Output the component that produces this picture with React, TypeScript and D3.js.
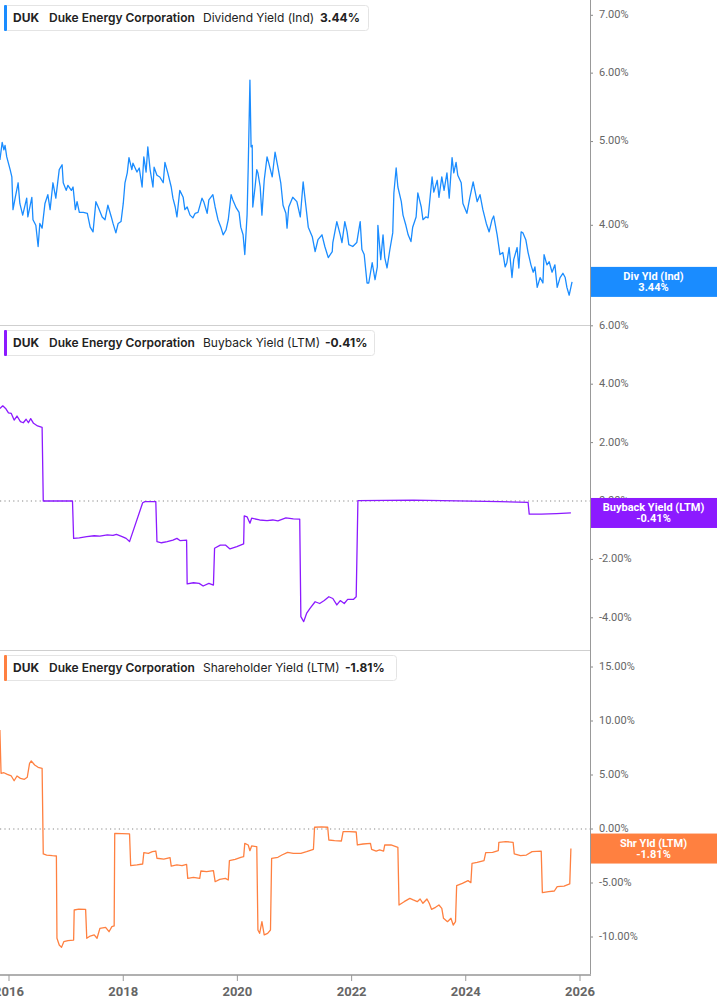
// Externals
import * as d3 from 'd3'
import { FC } from 'react'


const WIDTH = 717
const HEIGHT = 1005
const PLOT_RIGHT = 590
const AXIS_Y = 975
const PANEL_TOPS = [0, 325, 650]

const YEAR_TICKS = [2016, 2018, 2020, 2022, 2024, 2026]
const DIV_TICKS = [4, 5, 6, 7]
const BUYBACK_TICKS = [-4, -2, 0, 2, 4, 6]
const SHR_TICKS = [-10, -5, 0, 5, 10, 15]

// [decimal year, yield %]
const DIV_YIELD: [number, number][] = [
  [2015.84, 4.76], [2015.88, 4.99], [2015.91, 4.89], [2015.93, 4.95], [2015.96, 4.80],
  [2016.02, 4.64], [2016.05, 4.55], [2016.07, 4.17], [2016.11, 4.31], [2016.16, 4.48],
  [2016.19, 4.24], [2016.24, 4.11], [2016.31, 4.30], [2016.33, 4.09], [2016.40, 4.31],
  [2016.42, 4.06], [2016.47, 4.00], [2016.51, 3.78], [2016.54, 4.02], [2016.58, 3.97],
  [2016.63, 4.24], [2016.68, 4.34], [2016.72, 4.17], [2016.77, 4.48], [2016.82, 4.30],
  [2016.88, 4.64], [2016.93, 4.70], [2016.95, 4.48], [2017.00, 4.39], [2017.03, 4.45],
  [2017.09, 4.39], [2017.12, 4.43], [2017.16, 4.17], [2017.19, 4.26], [2017.23, 4.14],
  [2017.30, 4.14], [2017.37, 4.13], [2017.42, 3.98], [2017.47, 3.93], [2017.52, 4.26],
  [2017.56, 4.20], [2017.63, 4.09], [2017.68, 4.06], [2017.73, 4.22], [2017.79, 4.09],
  [2017.82, 4.02], [2017.87, 3.92], [2017.91, 4.02], [2017.96, 4.04], [2018.00, 4.24],
  [2018.03, 4.48], [2018.07, 4.60], [2018.10, 4.79], [2018.15, 4.64], [2018.17, 4.72],
  [2018.24, 4.61], [2018.28, 4.66], [2018.33, 4.43], [2018.36, 4.80], [2018.40, 4.61],
  [2018.43, 4.93], [2018.47, 4.64], [2018.52, 4.43], [2018.54, 4.67], [2018.59, 4.57],
  [2018.64, 4.55], [2018.70, 4.48], [2018.73, 4.73], [2018.78, 4.60], [2018.84, 4.43],
  [2018.87, 4.30], [2018.91, 4.20], [2018.94, 4.09], [2018.99, 4.39], [2019.05, 4.31],
  [2019.08, 4.17], [2019.12, 4.20], [2019.17, 4.11], [2019.22, 4.08], [2019.26, 4.13],
  [2019.31, 4.14], [2019.38, 4.30], [2019.41, 4.26], [2019.47, 4.13], [2019.50, 4.28],
  [2019.57, 4.34], [2019.61, 4.20], [2019.66, 4.06], [2019.71, 3.98], [2019.75, 3.90],
  [2019.80, 3.95], [2019.84, 4.06], [2019.89, 4.34], [2019.92, 4.28], [2019.98, 4.19],
  [2020.03, 4.14], [2020.06, 3.98], [2020.10, 3.90], [2020.13, 3.70], [2020.17, 4.11],
  [2020.19, 4.67], [2020.22, 5.89], [2020.24, 4.93], [2020.26, 4.95], [2020.27, 4.20],
  [2020.31, 4.43], [2020.34, 4.64], [2020.36, 4.60], [2020.40, 4.43], [2020.43, 4.11],
  [2020.47, 4.51], [2020.52, 4.80], [2020.55, 4.72], [2020.61, 4.55], [2020.66, 4.86],
  [2020.71, 4.67], [2020.76, 4.48], [2020.80, 4.22], [2020.85, 4.13], [2020.87, 3.97],
  [2020.90, 4.20], [2020.97, 4.31], [2021.04, 4.26], [2021.10, 4.09], [2021.15, 4.49],
  [2021.20, 4.20], [2021.24, 3.98], [2021.31, 3.88], [2021.36, 3.73], [2021.41, 3.85],
  [2021.48, 3.90], [2021.53, 3.78], [2021.59, 3.67], [2021.66, 3.73], [2021.67, 3.82],
  [2021.74, 4.04], [2021.80, 3.90], [2021.83, 3.82], [2021.88, 4.04], [2021.92, 3.93],
  [2021.95, 3.80], [2022.02, 3.78], [2022.09, 3.82], [2022.15, 4.04], [2022.18, 3.75],
  [2022.22, 3.70], [2022.27, 3.43], [2022.30, 3.43], [2022.36, 3.62], [2022.41, 3.46],
  [2022.45, 3.58], [2022.46, 4.00], [2022.51, 3.65], [2022.55, 3.90], [2022.58, 3.67],
  [2022.62, 3.57], [2022.67, 3.75], [2022.72, 3.92], [2022.74, 4.36], [2022.78, 4.66],
  [2022.81, 4.43], [2022.87, 4.26], [2022.90, 4.11], [2022.95, 4.00], [2022.99, 3.90],
  [2023.04, 3.83], [2023.07, 3.98], [2023.13, 4.09], [2023.16, 4.36], [2023.22, 4.20],
  [2023.25, 4.06], [2023.30, 4.09], [2023.34, 4.08], [2023.41, 4.55], [2023.44, 4.37],
  [2023.50, 4.51], [2023.53, 4.31], [2023.58, 4.55], [2023.62, 4.39], [2023.67, 4.60],
  [2023.71, 4.30], [2023.76, 4.79], [2023.79, 4.60], [2023.83, 4.73], [2023.86, 4.57],
  [2023.92, 4.48], [2023.95, 4.24], [2024.02, 4.13], [2024.07, 4.30], [2024.13, 4.49],
  [2024.16, 4.39], [2024.20, 4.26], [2024.25, 4.34], [2024.30, 4.17], [2024.36, 4.02],
  [2024.41, 3.93], [2024.46, 4.06], [2024.49, 4.10], [2024.55, 3.90], [2024.60, 3.70],
  [2024.65, 3.72], [2024.69, 3.58], [2024.72, 3.62], [2024.76, 3.77], [2024.81, 3.48],
  [2024.84, 3.65], [2024.90, 3.77], [2024.93, 3.57], [2024.97, 3.93], [2025.00, 3.92],
  [2025.05, 3.85], [2025.09, 3.72], [2025.14, 3.60], [2025.18, 3.53], [2025.21, 3.58],
  [2025.25, 3.39], [2025.30, 3.48], [2025.35, 3.43], [2025.37, 3.70], [2025.42, 3.60],
  [2025.46, 3.63], [2025.51, 3.53], [2025.56, 3.60], [2025.60, 3.39], [2025.65, 3.48],
  [2025.70, 3.52], [2025.74, 3.48], [2025.77, 3.39], [2025.81, 3.32], [2025.86, 3.44],
]

const BUYBACK_YIELD: [number, number][] = [
  [2015.84, 3.17], [2015.89, 3.26], [2015.94, 3.17], [2015.99, 3.02], [2016.04, 3.00],
  [2016.09, 2.77], [2016.14, 2.91], [2016.20, 2.72], [2016.25, 2.68], [2016.30, 2.80],
  [2016.34, 2.68], [2016.38, 2.82], [2016.43, 2.66], [2016.50, 2.57], [2016.58, 2.52],
  [2016.60, 0.00], [2017.11, 0.00], [2017.13, -1.28], [2017.23, -1.26], [2017.36, -1.22],
  [2017.49, -1.19], [2017.59, -1.20], [2017.72, -1.16], [2017.82, -1.18], [2017.88, -1.14],
  [2017.98, -1.22], [2018.05, -1.28], [2018.11, -1.39], [2018.34, -0.06], [2018.38, -0.02],
  [2018.57, -0.02], [2018.59, -1.39], [2018.67, -1.43], [2018.77, -1.39], [2018.87, -1.34],
  [2018.94, -1.28], [2019.00, -1.36], [2019.11, -1.34], [2019.12, -2.84], [2019.23, -2.80],
  [2019.33, -2.82], [2019.40, -2.91], [2019.50, -2.82], [2019.58, -2.88], [2019.60, -1.62],
  [2019.70, -1.51], [2019.79, -1.51], [2019.87, -1.64], [2019.99, -1.56], [2020.11, -1.47],
  [2020.12, -0.51], [2020.17, -0.54], [2020.22, -0.76], [2020.25, -0.59], [2020.39, -0.65],
  [2020.52, -0.67], [2020.62, -0.65], [2020.71, -0.68], [2020.85, -0.58], [2020.98, -0.61],
  [2021.09, -0.62], [2021.11, -3.96], [2021.16, -4.13], [2021.21, -3.85], [2021.27, -3.68],
  [2021.36, -3.45], [2021.44, -3.51], [2021.52, -3.41], [2021.60, -3.28], [2021.67, -3.34],
  [2021.74, -3.56], [2021.80, -3.41], [2021.87, -3.51], [2021.93, -3.37], [2022.03, -3.37],
  [2022.08, -3.28], [2022.11, 0.01], [2023.08, 0.03], [2024.60, -0.02], [2025.09, -0.05],
  [2025.11, -0.45], [2025.32, -0.45], [2025.59, -0.43], [2025.84, -0.41],
]

const SHR_YIELD: [number, number][] = [
  [2015.84, 9.17], [2015.86, 5.16], [2015.91, 5.21], [2015.97, 5.06], [2016.04, 4.91],
  [2016.09, 4.47], [2016.14, 4.91], [2016.20, 4.69], [2016.27, 4.60], [2016.32, 4.79],
  [2016.36, 6.08], [2016.39, 6.30], [2016.45, 5.93], [2016.51, 5.71], [2016.58, 5.62],
  [2016.60, -2.31], [2016.66, -2.41], [2016.76, -2.47], [2016.83, -2.50], [2016.84, -10.12],
  [2016.88, -10.74], [2016.92, -10.96], [2016.96, -10.43], [2017.03, -10.34], [2017.13, -10.28],
  [2017.14, -7.50], [2017.22, -7.41], [2017.34, -7.44], [2017.36, -10.12], [2017.42, -9.91],
  [2017.49, -9.81], [2017.54, -10.12], [2017.59, -9.20], [2017.69, -9.10], [2017.75, -9.51],
  [2017.80, -9.04], [2017.84, -8.98], [2017.85, -0.40], [2018.11, -0.46], [2018.13, -3.40],
  [2018.24, -3.33], [2018.34, -3.24], [2018.36, -2.19], [2018.44, -2.25], [2018.51, -2.10],
  [2018.57, -2.04], [2018.59, -2.71], [2018.71, -2.78], [2018.82, -2.66], [2018.84, -3.43],
  [2018.94, -3.33], [2019.03, -3.40], [2019.11, -3.27], [2019.13, -4.57], [2019.23, -4.48],
  [2019.34, -4.57], [2019.36, -3.89], [2019.46, -3.95], [2019.58, -3.86], [2019.61, -4.88],
  [2019.69, -4.66], [2019.79, -4.57], [2019.84, -4.72], [2019.86, -2.93], [2019.96, -2.81],
  [2020.06, -2.62], [2020.11, -2.56], [2020.13, -1.33], [2020.19, -1.48], [2020.22, -2.01],
  [2020.25, -1.57], [2020.34, -1.64], [2020.36, -9.35], [2020.39, -9.66], [2020.43, -8.58],
  [2020.47, -9.81], [2020.53, -9.66], [2020.58, -9.35], [2020.60, -2.71], [2020.71, -2.62],
  [2020.78, -2.41], [2020.88, -2.16], [2020.98, -2.25], [2021.11, -2.25], [2021.21, -2.10],
  [2021.33, -1.88], [2021.35, 0.16], [2021.47, 0.19], [2021.58, 0.16], [2021.60, -1.02],
  [2021.70, -1.08], [2021.82, -1.11], [2021.85, -0.25], [2021.96, -0.25], [2022.08, -0.28],
  [2022.10, -1.48], [2022.20, -1.39], [2022.33, -1.33], [2022.35, -1.88], [2022.43, -2.04],
  [2022.49, -1.94], [2022.56, -2.04], [2022.58, -1.48], [2022.69, -1.48], [2022.81, -1.70],
  [2022.83, -7.04], [2022.92, -6.73], [2023.02, -6.42], [2023.08, -6.57], [2023.15, -6.73],
  [2023.20, -6.48], [2023.25, -6.88], [2023.32, -6.48], [2023.36, -6.88], [2023.40, -7.44],
  [2023.47, -7.25], [2023.53, -7.04], [2023.58, -7.35], [2023.61, -8.27], [2023.68, -8.58],
  [2023.74, -8.27], [2023.78, -8.89], [2023.82, -8.58], [2023.84, -5.25], [2023.94, -5.03],
  [2024.04, -4.78], [2024.09, -4.97], [2024.11, -3.18], [2024.20, -3.09], [2024.32, -2.93],
  [2024.35, -2.19], [2024.47, -2.16], [2024.57, -2.01], [2024.58, -1.23], [2024.70, -1.17],
  [2024.83, -1.23], [2024.85, -2.31], [2024.96, -2.47], [2025.06, -2.41], [2025.16, -2.10],
  [2025.32, -2.04], [2025.34, -5.90], [2025.45, -5.80], [2025.55, -5.74], [2025.60, -5.34],
  [2025.72, -5.28], [2025.82, -5.09], [2025.84, -1.81],
]


const toDate = (y: number) => {
  const yr = Math.floor(y)
  return new Date(Date.UTC(yr, 0, 1) + (y - yr) * 365.25 * 864e5)
}

const xScale = d3.scaleUtc()
  .domain([toDate(2016), toDate(2026)])
  .range([9, 580])

const fmt = (v: number) => v.toFixed(2) + '%'

type PanelProps = {
  top: number
  data: [number, number][]
  yScale: d3.ScaleContinuousNumeric<number, number>
  ticks: number[]
  color: string
  seriesName: string
  shortName: string
  valueX: number
  boxWidth: number
  zeroLine: boolean
}


const Panel: FC<PanelProps> = ({
  top, data, yScale, ticks, color, seriesName, shortName, valueX, boxWidth, zeroLine,
}) => {
  const line = d3.line<[number, number]>()
    .x((d) => xScale(toDate(d[0])))
    .y((d) => yScale(d[1]))

  const last = data[data.length - 1][1]
  const ly = yScale(last)

  return (
    <g>
      {/* panel top border */}
      { top > 0 && (
        <line x1={ 0 } x2={ PLOT_RIGHT } y1={ top + 0.5 } y2={ top + 0.5 } stroke='#cfcfcf' />
      ) }
      { zeroLine && (
        <line
          x1={ 0 } x2={ PLOT_RIGHT } y1={ yScale(0) } y2={ yScale(0) }
          stroke='#888' strokeDasharray='1.2,3.2' strokeWidth={ 1.2 }
        />
      ) }

      <path d={ line(data) as string } fill='none' stroke={ color } strokeWidth={ 1.3 } strokeLinejoin='round' />

      { ticks.map((t) => (
        <g key={ t } transform={ `translate(${PLOT_RIGHT},${yScale(t)})` }>
          <line x1={ 0 } x2={ 3 } stroke='#888' />
          <text x={ 9 } dominantBaseline='middle' fontSize={ 11 } fill='#666' fontFamily='Roboto, sans-serif'>
            { fmt(t) }
          </text>
        </g>
      )) }

      {/* last value label */}
      <rect x={ PLOT_RIGHT } y={ ly - 15 } width={ WIDTH - PLOT_RIGHT } height={ 30 } fill={ color } />
      <text
        x={ (PLOT_RIGHT + WIDTH) / 2 } textAnchor='middle' fill='#fff'
        fontSize={ 11 } fontWeight={ 700 } fontFamily='Roboto, sans-serif'
      >
        <tspan x={ (PLOT_RIGHT + WIDTH) / 2 } y={ ly - 1.5 }>{ shortName }</tspan>
        <tspan x={ (PLOT_RIGHT + WIDTH) / 2 } y={ ly + 9.5 }>{ fmt(last) }</tspan>
      </text>

      {/* legend */}
      <rect x={ 4.5 } y={ top + 5.5 } width={ boxWidth } height={ 25 } rx={ 3 } fill='#fff' stroke='#e4e4e4' />
      <rect x={ 4 } y={ top + 5 } width={ 3 } height={ 26 } rx={ 1 } fill={ color } />
      <g fontFamily='Inter, sans-serif' fontSize={ 12 } fill='#222'>
        <text x={ 13 } y={ top + 22 } fontWeight={ 700 }>DUK</text>
        <text x={ 49 } y={ top + 22 } fontWeight={ 600 }>Duke Energy Corporation</text>
        <text x={ 203 } y={ top + 22 } fontWeight={ 400 }>{ seriesName }</text>
        <text x={ valueX } y={ top + 22 } fontWeight={ 700 }>{ fmt(last) }</text>
      </g>
    </g>
  )
}


const App: FC = () => {
  const divScale = d3.scaleLog().domain([4, 7]).range([225.3, 15.3])
  const buyScale = d3.scaleLinear().domain([0, 6]).range([501, 325.8])
  const shrScale = d3.scaleLinear().domain([0, 15]).range([829, 667])

  return (
    <svg width={ WIDTH } height={ HEIGHT } style={ { position: 'absolute', left: 0, top: 0, background: '#fff' } }>
      <Panel
        top={ PANEL_TOPS[0] } data={ DIV_YIELD } yScale={ divScale } ticks={ DIV_TICKS }
        color='#1a8cff' seriesName='Dividend Yield (Ind)' shortName='Div Yld (Ind)'
        valueX={ 320 } boxWidth={ 364 } zeroLine={ false }
      />
      <Panel
        top={ PANEL_TOPS[1] } data={ BUYBACK_YIELD } yScale={ buyScale } ticks={ BUYBACK_TICKS }
        color='#8c1aff' seriesName='Buyback Yield (LTM)' shortName='Buyback Yield (LTM)'
        valueX={ 325 } boxWidth={ 370 } zeroLine={ true }
      />
      <Panel
        top={ PANEL_TOPS[2] } data={ SHR_YIELD } yScale={ shrScale } ticks={ SHR_TICKS }
        color='#ff8040' seriesName='Shareholder Yield (LTM)' shortName='Shr Yld (LTM)'
        valueX={ 345 } boxWidth={ 392 } zeroLine={ true }
      />

      {/* right axis line */}
      <line x1={ PLOT_RIGHT + 0.5 } x2={ PLOT_RIGHT + 0.5 } y1={ 0 } y2={ AXIS_Y } stroke='#999' />

      {/* bottom time axis */}
      <line x1={ 0 } x2={ PLOT_RIGHT + 1 } y1={ AXIS_Y } y2={ AXIS_Y } stroke='#b0b0b0' strokeWidth={ 2 } />
      { YEAR_TICKS.map((y) => (
        <g key={ y } transform={ `translate(${xScale(toDate(y))},${AXIS_Y})` }>
          <line y1={ 0 } y2={ 6 } stroke='#999' />
          <text
            y={ 18 } textAnchor='middle' dominantBaseline='middle' fontSize={ 13 }
            fontWeight={ 700 } fill='#666' fontFamily='Roboto, sans-serif'
          >
            { y }
          </text>
        </g>
      )) }
    </svg>
  )
}


export default App
